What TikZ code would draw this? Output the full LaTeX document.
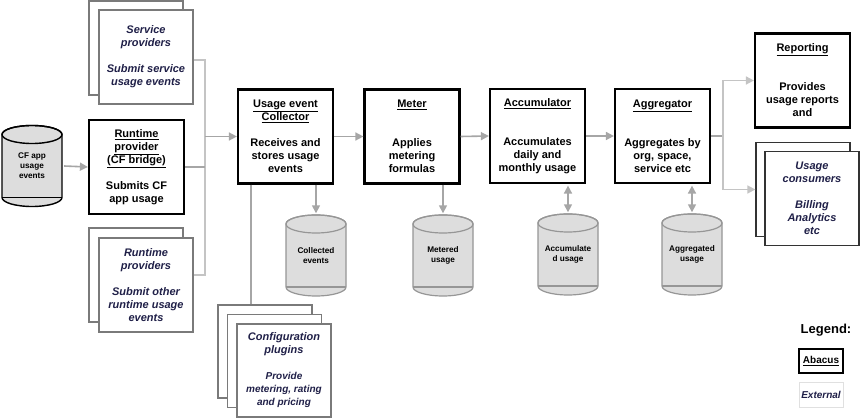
\documentclass[tikz,border=0pt]{standalone}
\usepackage{fontspec}
\setmainfont{Liberation Sans}
\usetikzlibrary{arrows.meta}
\definecolor{wiregray}{RGB}{166,166,166}
\definecolor{tiegray}{RGB}{196,196,196}
\definecolor{extgray}{RGB}{122,122,122}
\definecolor{canfill}{RGB}{221,221,221}
\definecolor{canedge}{RGB}{150,150,150}
\definecolor{navy}{RGB}{32,32,72}
\newcommand\boxtitle[1]{\underline{#1}}
\newcommand\boxfont{\bfseries\fontsize{11}{13}\selectfont}

\begin{document}
\begin{tikzpicture}
  [x=1pt,y=-1pt,
   abacus/.style={draw,line width=2.2pt,fill=white,minimum width=95,minimum height=94,
     inner sep=0pt,align=center,font=\boxfont},
   extbox/.style={draw=extgray,line width=1.8pt,fill=white,minimum width=94,minimum height=94,
     inner sep=0pt,align=center,text=navy,font=\boxfont\itshape},
   canline/.style={draw=canedge,fill=canfill,line width=1.2pt},
   store/.style={minimum width=64,minimum height=84,inner sep=0pt,align=center,
     font=\bfseries\fontsize{8.2}{10}\selectfont,
     path picture={
       \draw[canline] ([xshift=-30pt,yshift=31.5pt]path picture bounding box.center)
         -- ++(0pt,-63pt) arc[start angle=180,end angle=360,x radius=30pt,y radius=9pt]
         -- ++(0pt,63pt) arc[start angle=0,end angle=180,x radius=30pt,y radius=9pt] -- cycle;
       \draw[canline,fill=none] ([yshift=31.5pt]path picture bounding box.center)
         ellipse[x radius=30pt,y radius=9pt];
       \draw[canline] ([xshift=-30pt,yshift=-31.5pt]path picture bounding box.center) -- ++(60pt,0pt);
     }},
   wire/.style={draw=wiregray,line width=1.6pt},
   tie/.style={draw=tiegray,line width=1.6pt},
   flow/.style={wire,-{Triangle[length=8pt,width=8pt]}},
   dflow/.style={wire,{Triangle[length=8pt,width=8pt]}-{Triangle[length=8pt,width=8pt]},shorten <=1.5pt}]
  \fill[white] (0,0) rectangle (860,419);
  \useasboundingbox (0,0) rectangle (860,419);

  % sources
  \node[store,canline/.append style={draw=black,line width=1.4pt}] (cf) at (32,166) {CF app\\usage\\events};
  \node[extbox] (spb) at (136,48) {};
  \node[extbox] (spf) at (146,57) {Service\\providers\\[13pt]Submit service\\usage events};
  \node[abacus] (rp) at (136.5,167) {\boxtitle{Runtime}\\\boxtitle{provider}\\\boxtitle{(CF bridge)}\\[13pt]Submits CF\\app usage};
  \node[extbox] (rpb) at (136,275) {};
  \node[extbox] (rpf) at (146,285) {Runtime\\providers\\[13pt]Submit other\\runtime usage\\events};

  % pipeline
  \node[abacus] (col) at (285.5,136.5) {\boxtitle{Usage event}\\\boxtitle{Collector}\\[13pt]Receives and\\stores usage\\events};
  \node[abacus] (met) at (412,136.5) {\boxtitle{Meter}\\[26pt]Applies\\metering\\formulas};
  \node[abacus] (acc) at (537.5,136) {\boxtitle{Accumulator}\\[26pt]Accumulates\\daily and\\monthly usage};
  \node[abacus] (agg) at (662.5,136) {\boxtitle{Aggregator}\\[26pt]Aggregates by\\org, space,\\service etc};
  \node[abacus] (rep) at (802.5,80.5) {\boxtitle{Reporting}\\[26pt]Provides\\usage reports\\and};
  \node[extbox,draw=black!80,line width=1.3pt] (conb) at (803,189.5) {};
  \node[extbox,draw=black!80,line width=1.3pt] (conf) at (812,198.5) {Usage\\consumers\\[13pt]Billing\\Analytics\\etc};

  % stores
  \node[store] (ce) at (316,255.5) {Collected\\events};
  \node[store] (mu) at (443,255.5) {Metered\\usage};
  \node[store] (au) at (568,254.5) {Accumulate\\d usage};
  \node[store] (ag) at (692,254.5) {Aggregated\\usage};

  % configuration
  \node[extbox,minimum height=93] (cp1) at (265,351.5) {};
  \node[extbox,minimum height=93] (cp2) at (274.5,361) {};
  \node[extbox,minimum height=93] (cp3) at (284,370.5) {Configuration\\plugins\\[13pt]{\fontsize{10}{12}\selectfont Provide}\\{\fontsize{10}{12}\selectfont metering, rating}\\{\fontsize{10}{12}\selectfont and pricing}};

  % legend
  \node[font=\bfseries\fontsize{13}{15}\selectfont] (lg) at (826,330) {Legend:};
  \node[abacus,minimum width=44,minimum height=24,line width=1.8pt,font=\bfseries\fontsize{10}{12}\selectfont] (lga) at (821,361) {\boxtitle{Abacus}};
  \node[extbox,draw=black!12,line width=0.9pt,minimum width=44,minimum height=25,font=\bfseries\itshape\fontsize{10}{12}\selectfont] (lge) at (821,394.5) {External};

  % connectors
  \coordinate (jin) at (205,136.5);
  \coordinate (jout) at (723,136);
  \draw[tie] ([yshift=-3pt]spf.east) -| (jin) |- ([yshift=10pt]rpf.east);
  \draw[wire] (rp.east) -- (rp.east -| jin);
  \draw[flow] (jin) -- (col.west);
  \draw[flow] (cf.east) -- (rp.west);
  \foreach \from/\to in {col/met,met/acc,acc/agg}
    \draw[flow] (\from.east) -- (\to.west);
  \draw[wire] (agg.east) -- (jout);
  \draw[tie,-{Triangle[length=8pt,width=8pt]}] (jout) |- (rep.west);
  \draw[tie,-{Triangle[length=8pt,width=8pt]}] (jout) |- (conb.west);
  \draw[flow] (col.south -| ce.north) -- (ce.north);
  \draw[flow] (met.south -| mu.north) -- (mu.north);
  \draw[dflow] (acc.south -| au.north) -- (au.north);
  \draw[dflow] (agg.south -| ag.north) -- (ag.north);
  \draw[wire] ([xshift=14pt]col.south west) -- ([xshift=14pt]col.south west |- cp1.north);
\end{tikzpicture}
\end{document}
